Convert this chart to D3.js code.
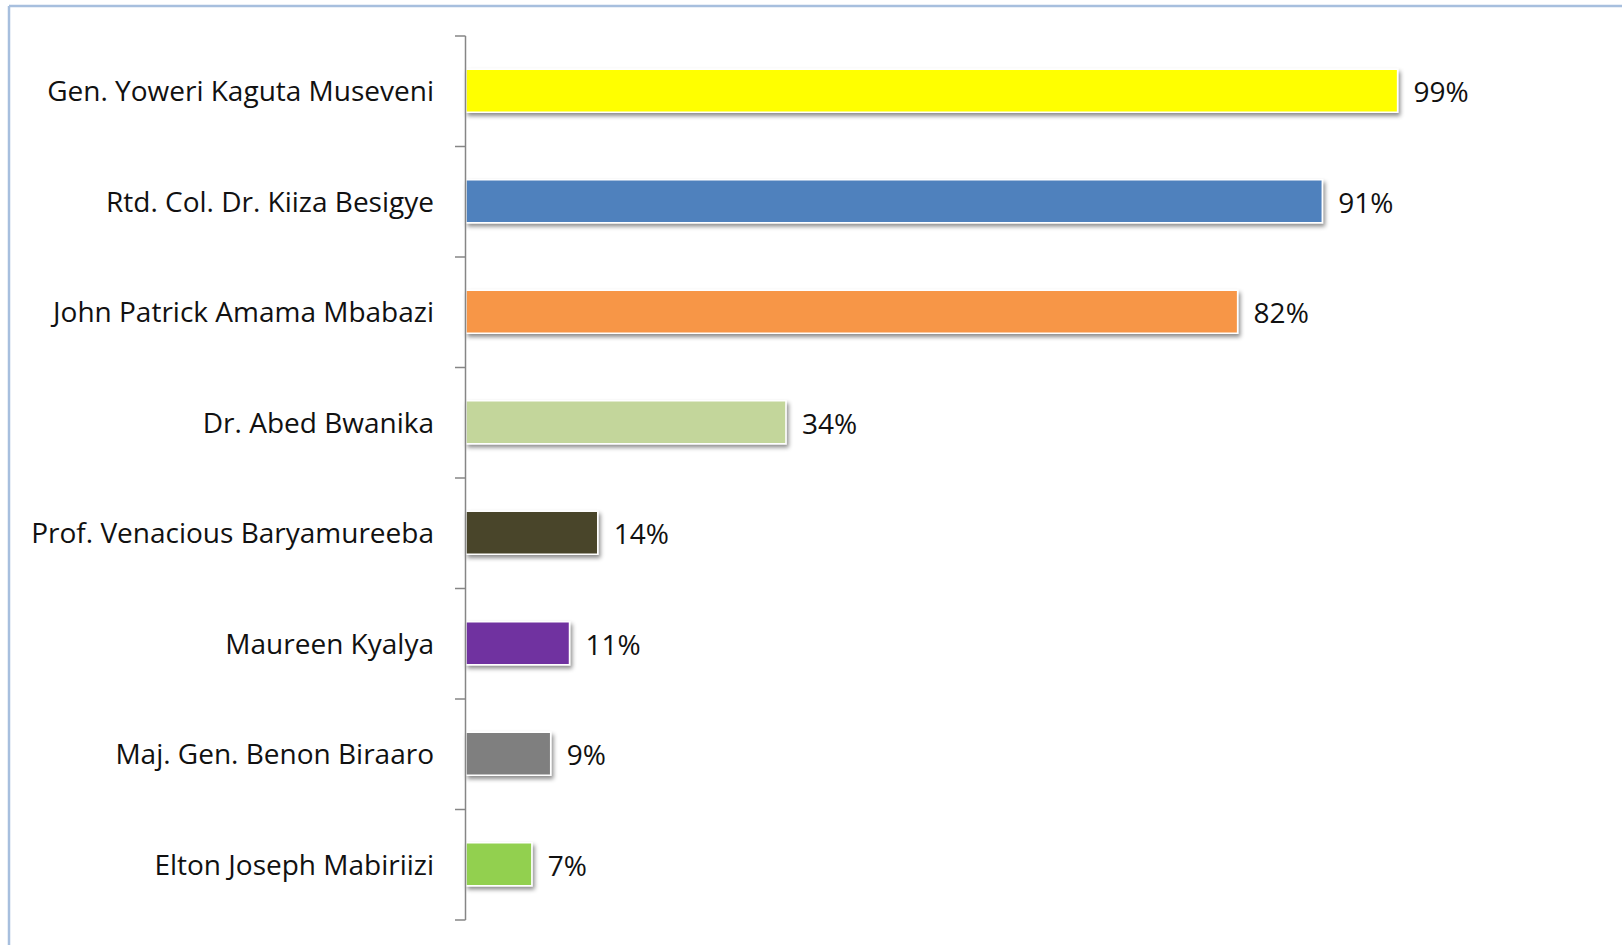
<!DOCTYPE html>
<html>
<head>
<meta charset="utf-8">
<script src="https://cdn.jsdelivr.net/npm/d3@7"></script>
<style>
  html, body { margin: 0; padding: 0; background: #fff; }
  svg { display: block; }
  .cat-label, .val-label { font-family: "Open Sans", sans-serif; fill: #111; }
</style>
</head>
<body>
<svg id="chart" width="1622" height="945"></svg>
<script>
"use strict";

const candidates = [
  "Gen. Yoweri Kaguta Museveni",
  "Rtd. Col. Dr. Kiiza Besigye",
  "John Patrick Amama Mbabazi",
  "Dr. Abed Bwanika",
  "Prof. Venacious Baryamureeba",
  "Maureen Kyalya",
  "Maj. Gen. Benon Biraaro",
  "Elton Joseph Mabiriizi"
]
const awareness = [99, 91, 82, 34, 14, 11, 9, 7]
const barColors = ["#ffff00", "#4f81bd", "#f79646", "#c3d69b", "#4a452a", "#7030a0", "#7f7f7f", "#92d050"]

const chartW = 1622, chartH = 945
const axisX = 466, plotTop = 36, plotBottom = 920

let svg = d3.select("#chart")

// frame border (only top and left visible)
svg.append("line")
  .attr("x1", 9).attr("y1", 6).attr("x2", chartW).attr("y2", 6)
  .attr("stroke", "#a7bfde").attr("stroke-width", 2.5)
svg.append("line")
  .attr("x1", 9).attr("y1", 6).attr("x2", 9).attr("y2", chartH)
  .attr("stroke", "#a7bfde").attr("stroke-width", 2.5)

let defs = svg.append("defs")
defs.append("filter")
    .attr("id", "shadow")
    .attr("x", "-5%").attr("y", "-30%")
    .attr("width", "120%").attr("height", "180%")
  .append("feDropShadow")
    .attr("dx", 2).attr("dy", 3)
    .attr("stdDeviation", 2)
    .attr("flood-color", "#000")
    .attr("flood-opacity", 0.45)

let x = d3.scaleLinear()
  .domain([0, 100])
  .range([axisX, axisX + 941])

let y = d3.scaleBand()
  .domain(candidates)
  .range([plotTop, plotBottom])
  .paddingInner(0.62)
  .paddingOuter(0.31)

let data = candidates.map((c, i) => ({name: c, value: awareness[i], color: barColors[i]}))

// bars
svg.append("g").selectAll("rect").data(data).enter()
  .append("rect")
  .attr("x", x(0))
  .attr("y", d => y(d.name) - 1)
  .attr("width", d => x(d.value) - x(0))
  .attr("height", y.bandwidth() + 1)
  .attr("fill", d => d.color)
  .attr("stroke", "#fff")
  .attr("stroke-width", 1.5)
  .attr("filter", "url(#shadow)")

// axis line with ticks at category boundaries
let boundaries = d3.range(0, candidates.length + 1).map(i => plotTop + i * (plotBottom - plotTop) / candidates.length)
let axisG = svg.append("g")
axisG.append("line")
  .attr("x1", axisX - 0.5).attr("x2", axisX - 0.5)
  .attr("y1", plotTop).attr("y2", plotBottom)
  .attr("stroke", "#868686").attr("stroke-width", 1.5)
axisG.selectAll(".tick").data(boundaries).enter()
  .append("line")
  .attr("class", "tick")
  .attr("x1", axisX - 11).attr("x2", axisX - 0.5)
  .attr("y1", d => d).attr("y2", d => d)
  .attr("stroke", "#868686").attr("stroke-width", 1.5)

// category labels
svg.append("g").selectAll("text").data(data).enter()
  .append("text")
  .attr("class", "cat-label")
  .attr("x", axisX - 32)
  .attr("y", d => y(d.name) + y.bandwidth() / 2)
  .attr("dy", "0.36em")
  .attr("text-anchor", "end")
  .attr("font-size", 28)
  .text(d => d.name)

// value labels
svg.append("g").selectAll("text").data(data).enter()
  .append("text")
  .attr("class", "val-label")
  .attr("x", d => x(d.value) + 16)
  .attr("y", d => y(d.name) + y.bandwidth() / 2 + 1)
  .attr("dy", "0.36em")
  .attr("font-size", 28)
  .text(d => d.value + "%")
</script>
</body>
</html>
